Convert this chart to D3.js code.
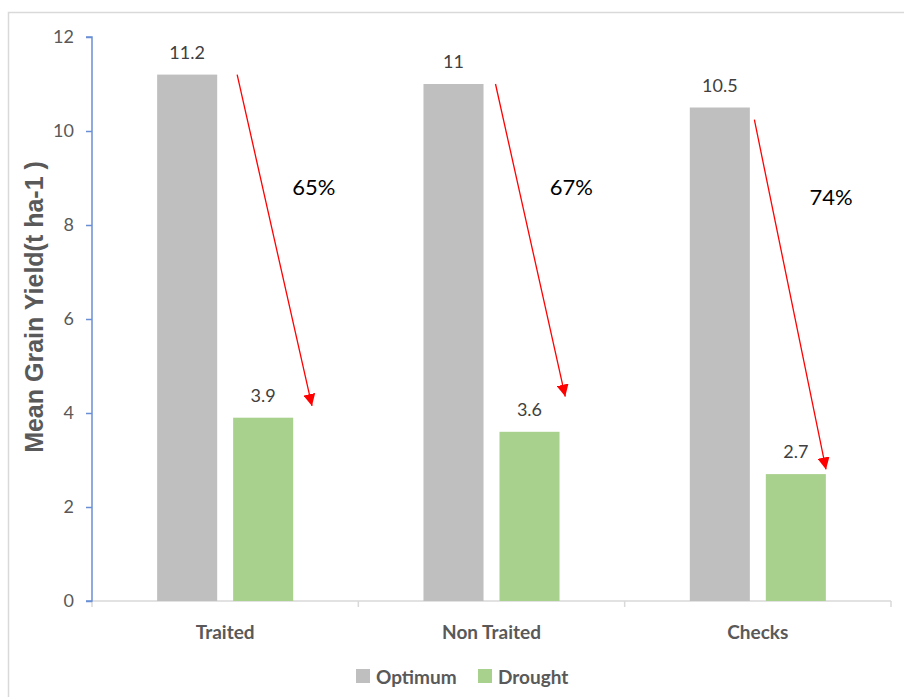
<!DOCTYPE html>
<html>
<head>
<meta charset="utf-8">
<script src="https://cdn.jsdelivr.net/npm/d3@7"></script>
<style>
  html, body { margin: 0; padding: 0; background: #fff; }
  svg { display: block; }
</style>
</head>
<body>
<svg id="chart" width="904" height="697"></svg>
<script>
// Mean grain yield per group under optimum and drought conditions
const categories = ["Traited", "Non Traited", "Checks"];
const seriesNames = ["Optimum", "Drought"];
const optimum = [11.2, 11, 10.5];
const drought = [3.9, 3.6, 2.7];
const yTicks = [0, 2, 4, 6, 8, 10, 12];
const reductionLabels = ["65%", "67%", "74%"];
// Arrow annotations, in yield units: where each arrow starts and ends
const arrowFrom = [11.2, 11.0, 10.24];
const arrowTo = [4.15, 4.35, 2.8];

const colors = { Optimum: "#BFBFBF", Drought: "#A9D18E" };
const FONT = "Lato, 'Open Sans', sans-serif";

const svg = d3.select("#chart");
const margin = { left: 92, right: 13, top: 37, bottom: 96 };
const W = 904, H = 697;

// chart-area frame (top and left edges visible)
svg.append("rect")
  .attr("x", 8.5).attr("y", 12.5)
  .attr("width", 920).attr("height", 720)
  .attr("fill", "none").attr("stroke", "#D9D9D9").attr("stroke-width", 1.5);

const x = d3.scaleBand()
  .domain(categories)
  .range([margin.left, W - margin.right])
  .paddingInner(0).paddingOuter(0);

const y = d3.scaleLinear()
  .domain([0, 12])
  .range([H - margin.bottom, margin.top]);

const inner = d3.scaleBand()
  .domain(seriesNames)
  .range([0, x.bandwidth()])
  .paddingInner(0.21)
  .paddingOuter(0.857);

// x axis (gray baseline with category separators)
const xAxisG = svg.append("g")
  .attr("transform", `translate(0,${y(0)})`);
xAxisG.append("line")
  .attr("x1", margin.left).attr("x2", W - margin.right)
  .attr("stroke", "#D9D9D9").attr("stroke-width", 1.5);
const sepPositions = categories.map(c => x(c)).concat([x(categories[categories.length - 1]) + x.bandwidth()]);
xAxisG.selectAll("line.sep")
  .data(sepPositions)
  .join("line")
  .attr("class", "sep")
  .attr("x1", d => d).attr("x2", d => d)
  .attr("y1", 0).attr("y2", 6)
  .attr("stroke", "#D9D9D9").attr("stroke-width", 1.5);

xAxisG.selectAll("text.cat")
  .data(categories)
  .join("text")
  .attr("class", "cat")
  .attr("x", d => x(d) + x.bandwidth() / 2)
  .attr("y", 38)
  .attr("text-anchor", "middle")
  .attr("font-family", FONT)
  .attr("font-weight", "bold")
  .attr("font-size", 19)
  .attr("fill", "#595959")
  .text(d => d);

// y axis
const yAxis = d3.axisLeft(y).tickValues(yTicks).tickSize(6).tickPadding(12);
const yAxisG = svg.append("g")
  .attr("transform", `translate(${margin.left},0)`)
  .call(yAxis);
yAxisG.select(".domain").attr("stroke", "#6A8FD4").attr("stroke-width", 1.5)
  .attr("d", `M-6,${y(12)}H0V${y(0)}H-6`);
yAxisG.selectAll(".tick line").attr("stroke", "#6A8FD4").attr("stroke-width", 1.5);
yAxisG.selectAll(".tick text")
  .attr("font-family", FONT)
  .attr("font-size", 18)
  .attr("fill", "#595959");

svg.append("text")
  .attr("transform", `translate(43,${(y(0) + y(12)) / 2 - 12}) rotate(-90)`)
  .attr("text-anchor", "middle")
  .attr("font-family", "'Liberation Sans', Arial, sans-serif")
  .attr("font-weight", "bold")
  .attr("font-size", 25)
  .attr("fill", "#595959")
  .text("Mean Grain Yield(t ha-1 )");

// bars
const rows = categories.map((c, i) => ({ cat: c, Optimum: optimum[i], Drought: drought[i] }));
const groups = svg.append("g").selectAll("g")
  .data(rows)
  .join("g")
  .attr("transform", d => `translate(${x(d.cat)},0)`);

groups.selectAll("rect")
  .data(d => seriesNames.map(s => ({ s, v: d[s] })))
  .join("rect")
  .attr("x", d => inner(d.s))
  .attr("y", d => y(d.v))
  .attr("width", inner.bandwidth())
  .attr("height", d => y(0) - y(d.v))
  .attr("fill", d => colors[d.s]);

groups.selectAll("text.val")
  .data(d => seriesNames.map(s => ({ s, v: d[s] })))
  .join("text")
  .attr("class", "val")
  .attr("x", d => inner(d.s) + inner.bandwidth() / 2)
  .attr("y", d => y(d.v) - 16)
  .attr("text-anchor", "middle")
  .attr("font-family", FONT)
  .attr("font-size", 18)
  .attr("fill", "#404040")
  .text(d => d.v);

// reduction arrows
const defs = svg.append("defs");
defs.append("marker")
  .attr("id", "head")
  .attr("viewBox", "0 0 10 10")
  .attr("refX", 10).attr("refY", 5)
  .attr("markerWidth", 12).attr("markerHeight", 12)
  .attr("markerUnits", "userSpaceOnUse")
  .attr("orient", "auto")
  .append("path")
  .attr("d", "M0,0L10,5L0,10z")
  .attr("fill", "#FF0000");

const arrowX0 = [0.545, 0.515, 0.487];
const arrowX1 = [0.826, 0.777, 0.756];
const labelX = [0.833, 0.8, 0.775];
const labelV = [8.75, 8.75, 8.55];

categories.forEach((c, i) => {
  const bx = x(c), bw = x.bandwidth();
  svg.append("line")
    .attr("x1", bx + bw * arrowX0[i]).attr("y1", y(arrowFrom[i]))
    .attr("x2", bx + bw * arrowX1[i]).attr("y2", y(arrowTo[i]))
    .attr("stroke", "#FF0000").attr("stroke-width", 1.3)
    .attr("marker-end", "url(#head)");
  svg.append("text")
    .attr("x", bx + bw * labelX[i])
    .attr("y", y(labelV[i]))
    .attr("text-anchor", "middle")
    .attr("dominant-baseline", "middle")
    .attr("font-family", FONT)
    .attr("font-size", 22)
    .attr("fill", "#000")
    .text(reductionLabels[i]);
});

// legend
const legend = svg.append("g").attr("transform", "translate(356,676)");
const legendX = [0, 122];
seriesNames.forEach((s, i) => {
  const g = legend.append("g").attr("transform", `translate(${legendX[i]},0)`);
  g.append("rect").attr("x", 0).attr("y", -7).attr("width", 14).attr("height", 14).attr("fill", colors[s]);
  g.append("text").attr("x", 20).attr("y", 0)
    .attr("dominant-baseline", "central")
    .attr("font-family", FONT).attr("font-weight", "bold").attr("font-size", 19)
    .attr("fill", "#595959").text(s);
});
</script>
</body>
</html>
